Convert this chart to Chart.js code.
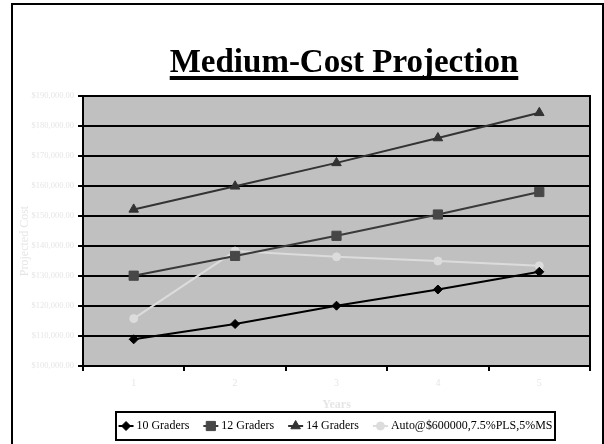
<!DOCTYPE html>
<html>
<head>
<meta charset="utf-8">
<script src="https://cdn.jsdelivr.net/npm/chart.js@4/dist/chart.umd.min.js"></script>
<style>
  html, body { margin: 0; padding: 0; background: #fff; }
  canvas { display: block; }
</style>
</head>
<body>
<canvas id="chart" width="604" height="444"></canvas>
<script>
// Projected cost per year for each grader configuration
const years = ['1', '2', '3', '4', '5'];
const seriesNames = ['10 Graders', '12 Graders', '14 Graders', 'Auto@$600000,7.5%PLS,5%MS'];
const graders10 = [108900, 114000, 120100, 125500, 131400];
const graders12 = [130100, 136700, 143400, 150500, 158000];
const graders14 = [152200, 159900, 167700, 176000, 184400];
const autoPlan  = [115800, 138300, 136400, 135000, 133400];
const costMin = 100000;
const costMax = 190000;
const costStep = 10000;

const chartTitle = 'Medium-Cost Projection';
const xTitle = 'Years';
const yTitle = 'Projected Cost';

const SERIF = "'Liberation Serif', 'Times New Roman', serif";
const FAINT = '#e6e6e6';

function money(v) {
  return '$' + Number(v).toLocaleString('en-US', { minimumFractionDigits: 2, maximumFractionDigits: 2 });
}

// Draws the frame, plot background, title, y axis title and the boxed legend
const decorations = {
  id: 'decorations',
  beforeDraw(chart) {
    const { ctx, chartArea: a } = chart;
    ctx.save();
    ctx.fillStyle = '#ffffff';
    ctx.fillRect(0, 0, chart.width, chart.height);
    ctx.fillStyle = '#c0c0c0';
    ctx.fillRect(a.left, a.top, a.right - a.left, a.bottom - a.top);
    ctx.restore();
  },
  afterDraw(chart) {
    const { ctx, chartArea: a } = chart;
    ctx.save();

    // outer frame (open at the bottom)
    ctx.strokeStyle = '#000';
    ctx.lineWidth = 2;
    ctx.beginPath();
    ctx.moveTo(12, 450);
    ctx.lineTo(12, 4);
    ctx.lineTo(603, 4);
    ctx.lineTo(603, 450);
    ctx.stroke();

    // right edge of the plot area
    ctx.beginPath();
    ctx.moveTo(a.right, a.top - 1);
    ctx.lineTo(a.right, a.bottom + 1);
    ctx.stroke();

    // title with underline
    ctx.font = 'bold 33px ' + SERIF;
    ctx.fillStyle = '#000';
    ctx.textAlign = 'center';
    ctx.textBaseline = 'alphabetic';
    const tx = 344;
    ctx.fillText(chartTitle, tx, 72);
    const tw = ctx.measureText(chartTitle).width;
    ctx.fillRect(tx - tw / 2, 76, tw, 4);

    // y axis title
    ctx.save();
    ctx.translate(25, 241);
    ctx.rotate(-Math.PI / 2);
    ctx.font = '12px ' + SERIF;
    ctx.fillStyle = FAINT;
    ctx.textAlign = 'center';
    ctx.textBaseline = 'middle';
    ctx.fillText(yTitle, 0, 0);
    ctx.restore();

    // legend box
    const box = { l: 116, t: 412, r: 555, b: 440 };
    ctx.strokeStyle = '#000';
    ctx.lineWidth = 2;
    ctx.strokeRect(box.l, box.t, box.r - box.l, box.b - box.t);

    // legend entries: narrow serif text next to a line-and-marker sample
    const squeeze = 0.92;
    ctx.font = '13px ' + SERIF;
    const lineLen = 15, textGap = 3, itemGap = 14;
    const items = chart.data.datasets.map(ds => ({ ds, w: ctx.measureText(ds.label).width * squeeze }));
    const total = items.reduce((s, it) => s + lineLen + textGap + it.w, 0) + itemGap * (items.length - 1);
    let x = (box.l + box.r) / 2 - total / 2;
    const cy = 426;
    items.forEach(({ ds, w }) => {
      ctx.strokeStyle = ds.borderColor;
      ctx.lineWidth = 2;
      ctx.beginPath();
      ctx.moveTo(x, cy);
      ctx.lineTo(x + lineLen, cy);
      ctx.stroke();
      ctx.fillStyle = ds.pointBackgroundColor;
      ctx.strokeStyle = ds.pointBackgroundColor;
      ctx.lineWidth = 1;
      Chart.helpers.drawPoint(ctx, {
        pointStyle: ds.pointStyle,
        radius: ds.pointRadius,
        rotation: 0,
        borderWidth: 1
      }, x + lineLen / 2, cy);
      ctx.save();
      ctx.translate(x + lineLen + textGap, cy);
      ctx.scale(squeeze, 1);
      ctx.fillStyle = '#000';
      ctx.textAlign = 'left';
      ctx.textBaseline = 'middle';
      ctx.fillText(ds.label, 0, 0);
      ctx.restore();
      x += lineLen + textGap + w + itemGap;
    });

    ctx.restore();
  }
};

function series(label, data, line, fill, style, radius) {
  return {
    label, data,
    borderColor: line,
    borderWidth: 2,
    backgroundColor: fill,
    pointBackgroundColor: fill,
    pointBorderColor: fill,
    pointBorderWidth: 1,
    pointStyle: style,
    pointRadius: radius,
    pointHoverRadius: radius,
    tension: 0,
    fill: false
  };
}

new Chart(document.getElementById('chart'), {
  type: 'line',
  data: {
    labels: years,
    datasets: [
      series(seriesNames[0], graders10, '#000000', '#000000', 'rectRot', 4.5),
      series(seriesNames[1], graders12, '#3a3a3a', '#474747', 'rect', 6.5),
      series(seriesNames[2], graders14, '#333333', '#333333', 'triangle', 5.5),
      series(seriesNames[3], autoPlan,  '#dcdcdc', '#dcdcdc', 'circle', 4)
    ]
  },
  options: {
    responsive: false,
    animation: false,
    devicePixelRatio: 1,
    layout: { padding: { left: 0, right: 14, top: 96, bottom: 0 } },
    plugins: {
      legend: { display: false },
      title: { display: false },
      tooltip: { enabled: false }
    },
    scales: {
      x: {
        offset: true,
        afterFit(s) { s.height = 78; },
        grid: {
          offset: true,
          drawOnChartArea: false,
          drawTicks: true,
          tickLength: 5,
          color: '#000',
          lineWidth: 2
        },
        border: { display: true, color: '#000', width: 2 },
        ticks: {
          color: FAINT,
          font: { family: SERIF, size: 10 },
          padding: 6,
          maxRotation: 0
        },
        title: {
          display: true,
          text: xTitle,
          color: FAINT,
          font: { family: SERIF, size: 12, weight: 'bold' },
          padding: { top: 0, bottom: 32 }
        }
      },
      y: {
        min: costMin,
        max: costMax,
        afterFit(s) { s.width = 83; },
        grid: {
          color: '#000',
          lineWidth: 2,
          drawTicks: true,
          tickLength: 5
        },
        border: { display: true, color: '#000', width: 2 },
        ticks: {
          stepSize: costStep,
          color: FAINT,
          font: { family: SERIF, size: 8.5 },
          padding: 4,
          callback: v => money(v)
        }
      }
    }
  },
  plugins: [decorations]
});
</script>
</body>
</html>
